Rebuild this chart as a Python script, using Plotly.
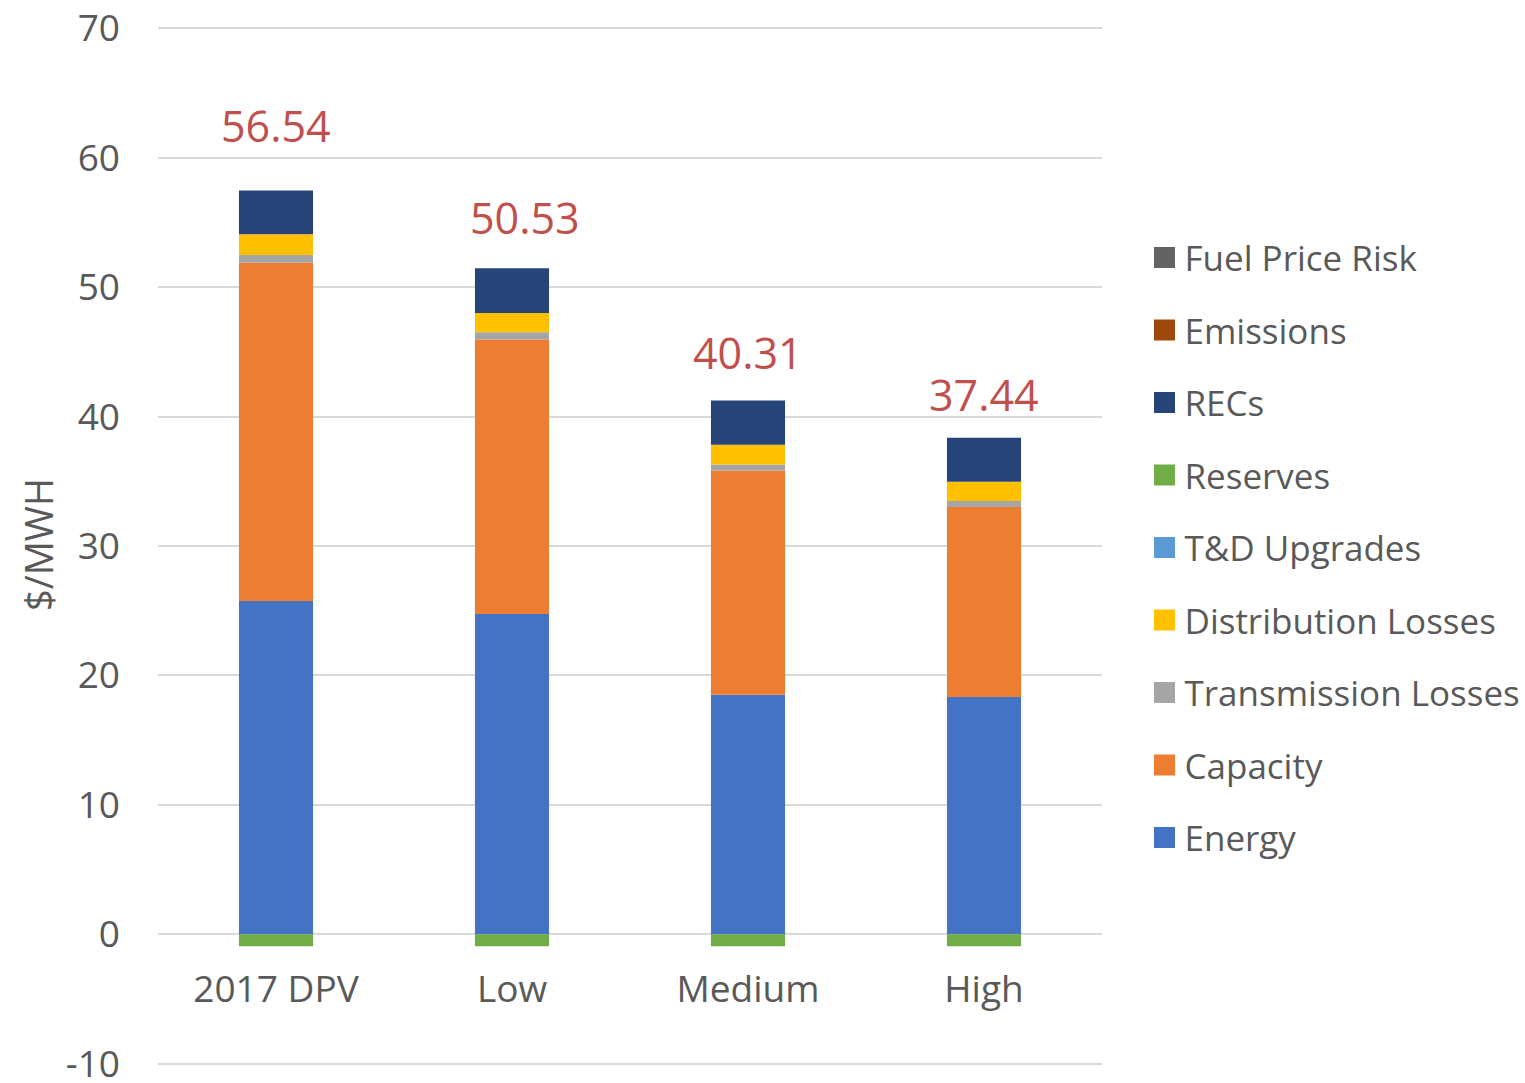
import plotly.graph_objects as go

# Cost components ($/MWh) for each scenario
categories = ["2017 DPV", "Low", "Medium", "High"]
energy = [25.75, 24.75, 18.50, 18.34]
capacity = [26.13, 21.20, 17.34, 14.68]
transmission_losses = [0.60, 0.56, 0.46, 0.46]
distribution_losses = [1.60, 1.50, 1.52, 1.49]
td_upgrades = [0.0, 0.0, 0.0, 0.0]
reserves = [-0.93, -0.93, -0.93, -0.93]
recs = [3.39, 3.45, 3.42, 3.40]
emissions = [0.0, 0.0, 0.0, 0.0]
fuel_price_risk = [0.0, 0.0, 0.0, 0.0]

y_ticks = [-10, 0, 10, 20, 30, 40, 50, 60, 70]
y_tick_labels = ["-10", "0", "10", "20", "30", "40", "50", "60", "70"]

# Stacking order, bottom to top
series = [
    ("Energy", energy, "#4472C4"),
    ("Capacity", capacity, "#ED7D31"),
    ("Transmission Losses", transmission_losses, "#A5A5A5"),
    ("Distribution Losses", distribution_losses, "#FFC000"),
    ("T&D Upgrades", td_upgrades, "#5B9BD5"),
    ("Reserves", reserves, "#70AD47"),
    ("RECs", recs, "#264478"),
    ("Emissions", emissions, "#9E480E"),
    ("Fuel Price Risk", fuel_price_risk, "#636363"),
]

FONT = "Open Sans"
GREY = "#595959"

fig = go.Figure()
for name, vals, color in series:
    fig.add_trace(go.Bar(
        name=name, x=categories, y=vals, legendgroup=name, showlegend=False,
        marker=dict(color=color, line=dict(width=0)),
    ))

# Legend entries with larger square swatches, listed top of stack first
for name, vals, color in reversed(series):
    fig.add_trace(go.Scatter(
        name=name, x=[None], y=[None], mode="markers", legendgroup=name,
        marker=dict(symbol="square", size=16, color=color,
                    line=dict(width=5, color=color)),
        hoverinfo="skip",
    ))

# Net total above each stack
label_lift = [33, 19, 17, 12]
label_nudge = [0, 13, 0, 0]
for i, cat in enumerate(categories):
    parts = [s[1][i] for s in series]
    net = round(sum(parts), 2)
    top = sum(p for p in parts if p > 0)
    fig.add_annotation(
        x=cat, y=top, text=f"{net:.2f}", showarrow=False,
        yanchor="bottom", yshift=label_lift[i], xshift=label_nudge[i],
        font=dict(family=FONT, size=43, color="#C0504D"),
    )

# Vertical axis title
fig.add_annotation(
    xref="paper", yref="paper", x=-0.1271, y=0.501, text="$/MWH",
    textangle=-90, showarrow=False, xanchor="center", yanchor="middle",
    font=dict(family=FONT, size=38, color=GREY),
)

fig.update_layout(
    width=1525, height=1083,
    margin=dict(l=158, r=423, t=26.7, b=17.7, autoexpand=False),
    paper_bgcolor="white", plot_bgcolor="white",
    barmode="relative", bargap=0.686,
    font=dict(family=FONT, color=GREY, size=34),
    showlegend=True,
    legend=dict(
        x=1.045, y=0.806, xanchor="left", yanchor="top",
        traceorder="grouped", tracegroupgap=24,
        font=dict(family=FONT, size=35, color=GREY),
        bgcolor="rgba(0,0,0,0)",
    ),
)
fig.update_yaxes(
    range=[-10.1, 70.1], tickvals=y_ticks, ticktext=y_tick_labels,
    showgrid=True, automargin=False,
    gridcolor="#D9D9D9", gridwidth=1.5, zeroline=True,
    zerolinecolor="#D9D9D9", zerolinewidth=1.5,
    showline=False, ticks="", ticklabelstandoff=37, ticklabeloverflow="allow",
    tickfont=dict(family=FONT, size=37, color=GREY),
)
fig.update_xaxes(
    anchor="free", position=0.1249, showline=False, ticks="", automargin=False,
    showgrid=False, ticklabelstandoff=29,
    tickfont=dict(family=FONT, size=37, color=GREY),
)

fig.write_html("out.html")
